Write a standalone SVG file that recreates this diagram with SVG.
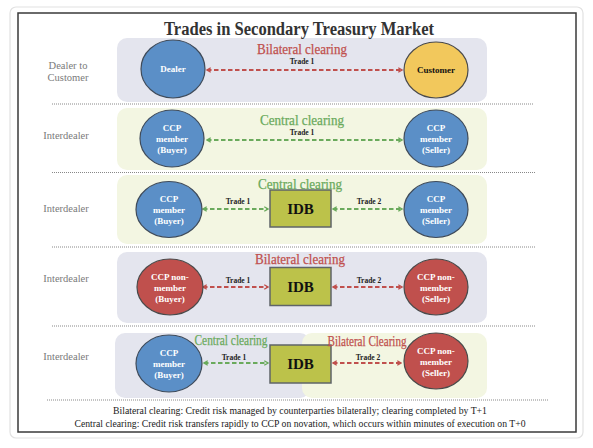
<svg xmlns="http://www.w3.org/2000/svg" width="593" height="448" viewBox="0 0 593 448">
<defs>
<style>
text{font-family:"Liberation Serif","DejaVu Serif",serif;text-anchor:middle}
.title{font-size:18px;font-weight:bold;fill:#333}
.side{font-size:10.5px;fill:#7a7a7a}
.red{fill:#c0504d;stroke:#c0504d;stroke-width:0.25}
.grn{fill:#6aaa5c;stroke:#6aaa5c;stroke-width:0.25}
.hdr{font-size:14px}
.node{font-size:9px;font-weight:bold;fill:#fff}
.trade{font-size:7.5px;font-weight:bold;fill:#222}
.idb{font-size:15px;font-weight:bold;fill:#111}
.foot{font-size:10.5px;fill:#1a1a1a}
.pg{fill:#e4e5ee}
.py{fill:#f3f6e2}
.blue{fill:#5b8fc7;stroke:#3f4b5a;stroke-width:1.2}
.rc{fill:#c0504d;stroke:#4a4a4a;stroke-width:1.2}
.yc{fill:#f2c85c;stroke:#4a4a4a;stroke-width:1.2}
.box{fill:#bcc24a;stroke:#5f6468;stroke-width:1.5}
.sep{stroke:#888;stroke-width:1;stroke-dasharray:1 1}
.ar{stroke:#c0504d;stroke-width:2;stroke-dasharray:4.5 2.5;fill:none;marker-start:url(#mr);marker-end:url(#mr)}
.ag{stroke:#6aaa5c;stroke-width:2;stroke-dasharray:4.5 2.5;fill:none;marker-start:url(#mg);marker-end:url(#mg)}
</style>
<marker id="mr" viewBox="0 0 8 8" refX="6.5" refY="4" markerWidth="6" markerHeight="6" orient="auto-start-reverse" markerUnits="userSpaceOnUse"><path d="M1.5,1 L6.5,4 L1.5,7" fill="none" stroke="#c0504d" stroke-width="1.8"/></marker>
<marker id="mg" viewBox="0 0 8 8" refX="6.5" refY="4" markerWidth="6" markerHeight="6" orient="auto-start-reverse" markerUnits="userSpaceOnUse"><path d="M1.5,1 L6.5,4 L1.5,7" fill="none" stroke="#6aaa5c" stroke-width="1.8"/></marker>
</defs>
<rect width="593" height="448" fill="#fff"/>
<rect x="10" y="7" width="573" height="431" rx="6" fill="#fff" stroke="#e2e2e2" stroke-width="1.2"/>
<rect x="18" y="13" width="558" height="419" fill="#fff" stroke="#3a3a3a" stroke-width="1.5"/>

<g id="panels">
<rect class="pg" x="117" y="38" width="370" height="64" rx="10"/>
<rect class="py" x="117" y="108" width="370" height="62" rx="10"/>
<rect class="py" x="117" y="175" width="370" height="69" rx="10"/>
<rect class="pg" x="117" y="252" width="370" height="71" rx="10"/>
<rect class="pg" x="115" y="333" width="195" height="65" rx="10"/>
<rect class="py" x="302" y="333" width="185" height="65" rx="10"/>
</g>

<text class="title" x="299" y="35" textLength="270" lengthAdjust="spacingAndGlyphs">Trades in Secondary Treasury Market</text>

<g id="separators">
<line class="sep" x1="52" y1="104" x2="533" y2="104"/>
<line class="sep" x1="52" y1="172.5" x2="535" y2="172.5"/>
<line class="sep" x1="52" y1="247" x2="535" y2="247"/>
<line class="sep" x1="52" y1="326" x2="535" y2="326"/>
<line class="sep" x1="47" y1="400" x2="548" y2="400" stroke="#bbb"/>
</g>

<g id="row-labels">
<text class="side" x="68" y="69">Dealer to</text>
<text class="side" x="68" y="81">Customer</text>
<text class="side" x="66" y="139">Interdealer</text>
<text class="side" x="66" y="212">Interdealer</text>
<text class="side" x="66" y="282">Interdealer</text>
<text class="side" x="66" y="360">Interdealer</text>
</g>

<g id="connectors">
<line class="ar" x1="207" y1="70" x2="402" y2="70"/>
<line class="ag" x1="207" y1="140" x2="402" y2="140"/>
<line class="ag" x1="203" y1="209" x2="268" y2="209"/>
<line class="ag" x1="333" y1="209" x2="402" y2="209"/>
<line class="ar" x1="203" y1="287" x2="268" y2="287"/>
<line class="ar" x1="333" y1="287" x2="402" y2="287"/>
<line class="ag" x1="204" y1="363" x2="268" y2="363"/>
<line class="ar" x1="333" y1="363" x2="401" y2="363"/>
<text class="trade" x="302" y="64">Trade 1</text>
<text class="trade" x="302" y="135">Trade 1</text>
<text class="trade" x="238" y="204">Trade 1</text>
<text class="trade" x="369" y="204">Trade 2</text>
<text class="trade" x="238" y="283">Trade 1</text>
<text class="trade" x="369" y="283">Trade 2</text>
<text class="trade" x="234" y="360">Trade 1</text>
<text class="trade" x="368" y="360">Trade 2</text>
</g>

<g id="dealer"><ellipse class="blue" cx="173" cy="69" rx="32" ry="29"/><text class="node" x="173" y="72">Dealer</text></g>
<g id="customer"><ellipse class="yc" cx="436" cy="70" rx="32" ry="28"/><text class="node" x="436" y="73" style="fill:#111">Customer</text></g>

<g id="r2-buyer"><ellipse class="blue" cx="172" cy="138.5" rx="32" ry="28.5"/><text class="node" x="172" y="131">CCP</text><text class="node" x="172" y="142">member</text><text class="node" x="172" y="153">(Buyer)</text></g>
<g id="r2-seller"><ellipse class="blue" cx="436" cy="138.5" rx="32" ry="28.5"/><text class="node" x="436" y="131">CCP</text><text class="node" x="436" y="142">member</text><text class="node" x="436" y="153">(Seller)</text></g>

<g id="r3-buyer"><ellipse class="blue" cx="169" cy="209.5" rx="33" ry="28"/><text class="node" x="169" y="202">CCP</text><text class="node" x="169" y="213">member</text><text class="node" x="169" y="224">(Buyer)</text></g>
<g id="r3-idb"><rect class="box" x="270" y="190" width="61" height="37"/><text class="idb" x="300.5" y="214">IDB</text></g>
<g id="r3-seller"><ellipse class="blue" cx="436" cy="209.5" rx="32" ry="28"/><text class="node" x="436" y="202">CCP</text><text class="node" x="436" y="213">member</text><text class="node" x="436" y="224">(Seller)</text></g>

<g id="r4-buyer"><ellipse class="rc" cx="170" cy="287" rx="33" ry="28"/><text class="node" x="170" y="280">CCP non-</text><text class="node" x="170" y="291">member</text><text class="node" x="170" y="302">(Buyer)</text></g>
<g id="r4-idb"><rect class="box" x="270" y="267.5" width="61" height="38"/><text class="idb" x="300.5" y="292">IDB</text></g>
<g id="r4-seller"><ellipse class="rc" cx="436" cy="287" rx="32" ry="28"/><text class="node" x="436" y="280">CCP non-</text><text class="node" x="436" y="291">member</text><text class="node" x="436" y="302">(Seller)</text></g>

<g id="r5-buyer"><ellipse class="blue" cx="169" cy="363.5" rx="33" ry="28.5"/><text class="node" x="169" y="356">CCP</text><text class="node" x="169" y="367">member</text><text class="node" x="169" y="378">(Buyer)</text></g>
<g id="r5-idb"><rect class="box" x="270" y="345" width="61" height="38"/><text class="idb" x="300.5" y="369">IDB</text></g>
<g id="r5-seller"><ellipse class="rc" cx="436" cy="361" rx="32" ry="28"/><text class="node" x="436" y="354">CCP non-</text><text class="node" x="436" y="365">member</text><text class="node" x="436" y="376">(Seller)</text></g>

<g id="headers">
<text class="hdr red" x="302" y="54" textLength="90" lengthAdjust="spacingAndGlyphs">Bilateral clearing</text>
<text class="hdr grn" x="302" y="125" textLength="84" lengthAdjust="spacingAndGlyphs">Central clearing</text>
<text class="hdr grn" x="300" y="189" textLength="84" lengthAdjust="spacingAndGlyphs">Central clearing</text>
<text class="hdr red" x="300" y="264" textLength="90" lengthAdjust="spacingAndGlyphs">Bilateral clearing</text>
<text class="hdr grn" x="231" y="345" textLength="73" lengthAdjust="spacingAndGlyphs">Central clearing</text>
<text class="hdr red" x="367" y="346" textLength="79" lengthAdjust="spacingAndGlyphs">Bilateral Clearing</text>
</g>

<g id="footer">
<text class="foot" x="300" y="414" textLength="374" lengthAdjust="spacingAndGlyphs">Bilateral clearing: Credit risk managed by counterparties bilaterally; clearing completed by T+1</text>
<text class="foot" x="300" y="427" textLength="451" lengthAdjust="spacingAndGlyphs">Central clearing: Credit risk transfers rapidly to CCP on novation, which occurs within minutes of execution on T+0</text>
</g>
</svg>
